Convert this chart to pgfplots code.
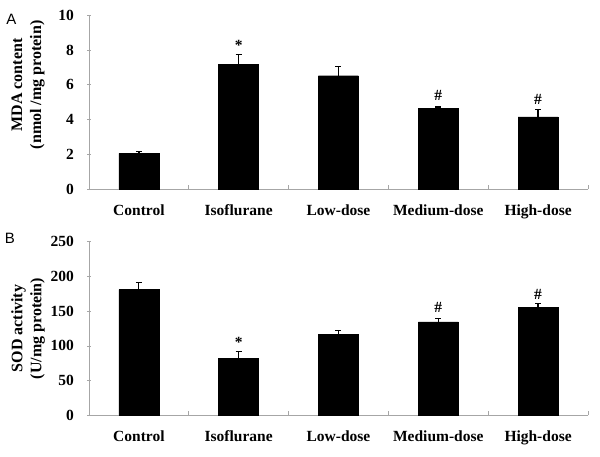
\documentclass[border=0pt]{standalone}
\usepackage{fontspec}
\setmainfont{Liberation Serif}
\newfontfamily\sansA{Liberation Sans}
\usepackage{pgfplots}
\pgfplotsset{compat=1.18}
\pgfplotstableread{
x y e
0 2.05 0.10
1 7.20 0.55
2 6.53 0.55
3 4.63 0.10
4 4.15 0.45
}\mdadata
\pgfplotstableread{
x y e
0 181 10
1 82 10.5
2 117 5
3 134.5 5
4 156 5.5
}\soddata
\tikzset{ann/.style={font=\bfseries\fontsize{15.5}{19}\selectfont}}
\pgfplotsset{
 panel/.style={
  scale only axis, width=499pt, height=173.5pt,
  axis x line=bottom, axis y line=left,
  axis line style={-, draw=black!35, line width=0.8pt},
  xmin=-0.5, xmax=4.5, xtick={0,...,4},
  xticklabels={Control,Isoflurane,Low-dose,Medium-dose,High-dose},
  major x tick style={draw=none},
  minor xtick={0.5,1.5,2.5,3.5,4.5},
  minor x tick style={draw=black!35, line width=0.8pt},
  minor tick length=4pt, major tick length=4pt,
  xtick align=inside, ytick align=center,
  major y tick style={draw=black!35, line width=0.8pt},
  /pgf/number format/assume math mode=true,
  ticklabel style={font=\bfseries\fontsize{15.5}{19}\selectfont},
  yticklabel style={anchor=east, inner sep=0pt, xshift=-13pt},
  xticklabel style={anchor=north, inner sep=0pt, yshift=-15.5pt},
  ylabel style={at={([xshift=-61pt]axis description cs:0,0.5)}, anchor=center, align=center, font=\bfseries\fontsize{16}{19}\selectfont},
  clip=false,
 },
 bars/.style={ybar, bar width=40pt, fill=black, draw=black,
  error bars/.cd, y dir=plus, y explicit,
  error bar style={line width=1.2pt, black},
  error mark options={rotate=90, mark size=3pt, line width=1.2pt, black}},
}
\begin{document}
\begin{tikzpicture}[x=1pt,y=1pt]
\useasboundingbox (0,0) rectangle (600,456);
\node[font=\sansA\fontsize{15}{18}\selectfont] at (11.5,437) {A};
\node[font=\sansA\fontsize{15}{18}\selectfont] at (10,218) {B};
\begin{axis}[panel, at={(89pt,267pt)}, anchor=south west,
  ymin=0, ymax=10, ytick={0,2,...,10},
  ylabel style={at={([xshift=-61pt]axis description cs:0,0.6)}},
  ylabel={MDA content\\(nmol /mg protein)}]
\addplot[bars] table[x=x, y=y, y error=e] {\mdadata};
\node[ann] at (axis cs:1,8.3) {*};
\node[ann] at (axis cs:3,5.39) {\#};
\node[ann] at (axis cs:4,5.14) {\#};
\end{axis}
\begin{axis}[panel, at={(89pt,40.7pt)}, anchor=south west,
  ymin=0, ymax=250, ytick={0,50,...,250},
  ylabel={SOD activity\\(U/mg protein)}]
\addplot[bars] table[x=x, y=y, y error=e] {\soddata};
\node[ann] at (axis cs:1,105) {*};
\node[ann] at (axis cs:3,155) {\#};
\node[ann] at (axis cs:4,174) {\#};
\end{axis}
\end{tikzpicture}
\end{document}
